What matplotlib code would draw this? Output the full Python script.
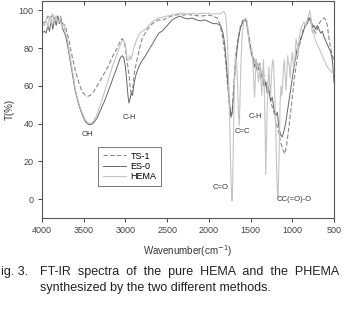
import matplotlib
matplotlib.use('Agg')
import matplotlib.pyplot as plt

plt.rcParams['font.family'] = ['Liberation Sans', 'DejaVu Sans']

# Spectra (wavenumber cm-1, transmittance %)
ts1_wn = [4000, 3960, 3930, 3900, 3870, 3850, 3830, 3800, 3780, 3750, 3720, 3700, 3680, 3650,
          3620, 3600, 3560, 3520, 3480, 3450, 3420, 3380, 3340, 3300, 3250, 3200, 3150, 3100,
          3060, 3040, 3020, 3000, 2985, 2970, 2955, 2940, 2925, 2910, 2890, 2860, 2830, 2800,
          2750, 2700, 2650, 2600, 2550, 2500, 2450, 2400, 2350, 2300, 2250, 2200, 2100, 2000,
          1950, 1900, 1870, 1840, 1810, 1790, 1770, 1750, 1730, 1715, 1700, 1680, 1650, 1620,
          1590, 1570, 1550, 1530, 1510, 1490, 1470, 1450, 1430, 1410, 1390, 1370, 1350, 1320,
          1300, 1270, 1250, 1230, 1200, 1180, 1160, 1140, 1110, 1090, 1070, 1050, 1030, 1010,
          990, 970, 950, 930, 910, 890, 870, 850, 820, 790, 760, 740, 720, 700, 680, 650, 620,
          600, 580, 560, 540, 520, 500]
ts1_t = [93, 94, 97, 96, 98, 95, 97, 96, 97, 93, 92, 88, 85, 78,
         72, 68, 62, 57, 55, 54.5, 55, 57, 60, 63, 67, 71, 76, 80,
         84, 85, 84, 80, 74, 70, 65, 58, 55, 60, 68, 74, 80, 85,
         89, 92, 94, 95, 95, 96, 97, 97.5, 98, 97.5, 98, 97.5, 97, 97.5,
         97, 96, 93, 87, 78, 68, 58, 48, 43, 50, 62, 75, 85, 92,
         95, 96, 95, 90, 84, 78, 76, 72, 74, 70, 72, 66, 68, 60,
         62, 55, 50, 48, 42, 38, 35, 30, 26, 24, 28, 35, 42, 50,
         58, 66, 72, 78, 82, 86, 90, 92, 94, 97, 93, 90, 88, 90, 93, 95, 96,
         95, 92, 85, 80, 76, 74]

es0_wn = [4000, 3970, 3950, 3930, 3910, 3890, 3870, 3850, 3830, 3810, 3790, 3770, 3750, 3720,
          3700, 3680, 3650, 3620, 3600, 3560, 3520, 3480, 3440, 3410, 3380, 3340, 3300, 3250,
          3200, 3150, 3100, 3060, 3040, 3020, 3000, 2985, 2970, 2958, 2945, 2930, 2915, 2900,
          2880, 2850, 2820, 2790, 2760, 2720, 2680, 2640, 2600, 2560, 2520, 2480, 2440, 2400,
          2350, 2300, 2250, 2200, 2150, 2100, 2050, 2000, 1950, 1900, 1860, 1830, 1810, 1790,
          1770, 1750, 1735, 1720, 1700, 1680, 1650, 1620, 1590, 1570, 1550, 1530, 1510, 1490,
          1470, 1455, 1440, 1420, 1400, 1380, 1360, 1340, 1320, 1300, 1280, 1260, 1240, 1220,
          1200, 1180, 1160, 1140, 1120, 1100, 1080, 1060, 1040, 1020, 1000, 980, 960, 940, 920,
          900, 880, 860, 840, 820, 800, 780, 760, 740, 720, 700, 680, 660, 640, 620, 600, 580,
          560, 540, 520, 500]
es0_t = [88, 89, 88, 92, 89, 95, 90, 96, 92, 97, 93, 95, 90, 87,
         83, 78, 70, 62, 57, 50, 45, 41, 39.5, 39.5, 40.5, 43, 47, 52,
         58, 64, 70, 75, 76, 75, 70, 63, 55, 51, 53, 56, 55, 60,
         65, 69, 72, 74, 76, 79, 82, 85, 88, 89, 91, 93, 95, 96,
         97, 96, 95.5, 96, 95, 94.5, 95, 94, 93, 93, 92, 88, 82, 72,
         60, 50, 44, 46, 58, 72, 84, 91, 94, 95, 94, 88, 82, 77,
         74, 70, 72, 68, 70, 64, 66, 60, 62, 56, 58, 52, 54, 48,
         44, 46, 38, 34, 33, 36, 40, 46, 52, 58, 64, 70, 75, 80, 82,
         85, 87, 90, 92, 93, 96, 94, 91, 92, 90, 92, 90, 88, 89, 86, 84, 82,
         80, 78, 74, 62]

hema_wn = [4000, 3970, 3950, 3930, 3910, 3890, 3870, 3850, 3830, 3800, 3780, 3760, 3740, 3720,
           3700, 3680, 3650, 3620, 3600, 3560, 3520, 3480, 3450, 3420, 3390, 3350, 3300, 3250,
           3200, 3150, 3100, 3060, 3040, 3020, 3000, 2990, 2980, 2970, 2960, 2950, 2935, 2920,
           2900, 2870, 2840, 2800, 2760, 2720, 2680, 2640, 2600, 2550, 2500, 2450, 2400, 2350,
           2300, 2250, 2200, 2150, 2100, 2000, 1950, 1900, 1870, 1840, 1820, 1800, 1790, 1780,
           1770, 1760, 1750, 1740, 1730, 1722, 1714, 1705, 1695, 1680, 1665, 1655, 1645, 1636,
           1628, 1615, 1600, 1580, 1560, 1545, 1530, 1515, 1500, 1485, 1470, 1460, 1452, 1444,
           1435, 1420, 1405, 1395, 1385, 1375, 1365, 1355, 1345, 1335, 1325, 1318, 1310, 1300,
           1290, 1280, 1270, 1260, 1250, 1240, 1230, 1220, 1210, 1200, 1190, 1180, 1172, 1165,
           1155, 1145, 1135, 1125, 1115, 1105, 1095, 1085, 1075, 1065, 1055, 1045, 1035, 1025,
           1015, 1000, 985, 970, 955, 940, 930, 915, 900, 880, 860, 840, 820, 800, 790, 780,
           770, 760, 750, 735, 720, 700, 680, 660, 640, 620, 600, 580, 560, 540, 520, 500]
hema_t = [93, 92, 95, 91, 97, 93, 98, 94, 97, 93, 96, 91, 93, 88,
          86, 80, 72, 64, 58, 51, 46, 42, 40.5, 40, 41, 44, 50, 57,
          64, 71, 77, 82, 84, 84, 82, 78, 74, 73.5, 74, 76, 74, 76,
          80, 84, 87, 89, 90, 92, 94, 95, 96, 96.5, 97, 97.5, 98, 98.5,
          98.5, 98, 98.5, 98, 98.5, 98.5, 98, 98.5, 98, 99, 99.5, 98, 94, 86,
          74, 58, 40, 20, 5, -1, 10, 35, 60, 75, 72, 60, 45, 39,
          50, 72, 88, 94, 96, 95, 89, 82, 78, 80, 72, 60, 54, 62,
          74, 70, 62, 66, 72, 62, 55, 66, 74, 58, 35, 13, 30, 50,
          62, 70, 60, 55, 65, 72, 74, 68, 55, 40, 20, 5, 1, 10,
          30, 52, 60, 55, 62, 70, 74, 65, 58, 66, 76, 72, 70, 64,
          72, 78, 70, 74, 85, 82, 76, 86, 90, 92, 94, 92, 95, 98, 100, 97,
          92, 88, 90, 86, 84, 82, 80, 78, 76, 74, 72, 70, 69, 68, 67, 66]

x_ticks = [4000, 3500, 3000, 2500, 2000, 1500, 1000, 500]
y_ticks = [0, 20, 40, 60, 80, 100]

# peak labels: (text, wavenumber, transmittance)
peak_labels = [('OH', 3461, 34), ('C-H', 2957, 43), ('C=C', 1599, 36),
               ('C-H', 1447, 44), ('C=O', 1855, 6), ('CC(=O)-O', 980, 0)]

fig = plt.figure(figsize=(3.44, 3.10), dpi=100)
ax = fig.add_axes([42 / 344, 1 - 218 / 310, 292 / 344, 217 / 310])

ax.plot(ts1_wn, ts1_t, color='#8a8a8a', lw=0.8, ls=(0, (4, 2)), label='TS-1')
ax.plot(es0_wn, es0_t, color='#666666', lw=0.7, label='ES-0')
ax.plot(hema_wn, hema_t, color='#c4c4c4', lw=0.8, label='HEMA')

for txt, wn, t in peak_labels:
    ax.text(wn, t, txt, fontsize=5.5, ha='center', va='center', color='#333333')

ax.set_xlim(4000, 500)
ax.set_ylim(-10, 105)
ax.set_xticks(x_ticks)
ax.set_yticks(y_ticks)
ax.tick_params(labelsize=6.5, length=3, width=0.7, colors='#444444', pad=3)
for sp in ax.spines.values():
    sp.set_color('#555555')
    sp.set_linewidth(0.8)

# inward tick marks along the top edge
top = ax.secondary_xaxis('top')
top.set_xticks(x_ticks)
top.tick_params(direction='in', length=3, width=0.7, colors='#444444', labeltop=False)
top.spines['top'].set_visible(False)

ax.set_ylabel('T(%)', fontsize=7, color='#333333', labelpad=3)
ax.set_xlabel('Wavenumber(cm$^{-1}$)', fontsize=7, color='#333333', labelpad=6)

leg = ax.legend(loc='upper left', bbox_to_anchor=(98 / 344, 1 - 147 / 310),
                bbox_transform=fig.transFigure, fontsize=6.5, frameon=True,
                fancybox=False, handlelength=2.6, handletextpad=0.5,
                labelspacing=0.15, borderpad=0.5, borderaxespad=0)
leg.get_frame().set_edgecolor('#555555')
leg.get_frame().set_linewidth(0.7)

fig.text(1 / 344, 1 - 272 / 310, 'ig. 3.', fontsize=9, va='center', color='#222222')
fig.text(40 / 344, 1 - 272 / 310, 'FT-IR  spectra  of  the  pure  HEMA  and  the  PHEMA',
         fontsize=9, va='center', color='#222222')
fig.text(40 / 344, 1 - 288 / 310, 'synthesized by the two different methods.',
         fontsize=9, va='center', color='#222222')

fig.savefig('out.png', dpi=100)
